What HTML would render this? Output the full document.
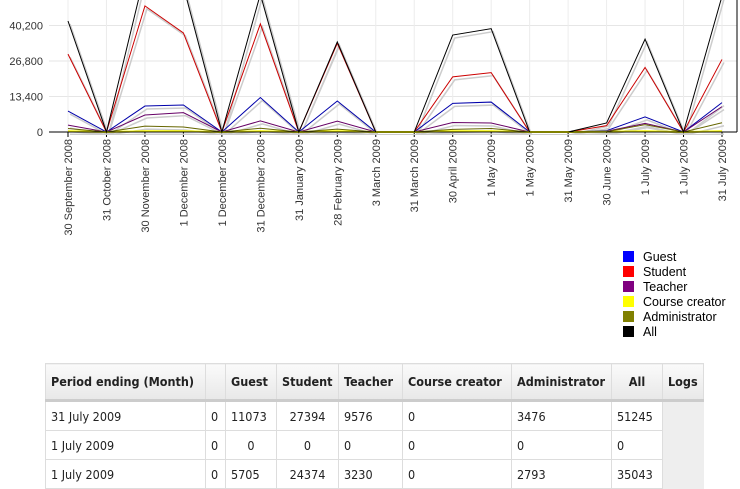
<!DOCTYPE html>
<html><head><meta charset="utf-8"><style>
body{margin:0;width:740px;height:488px;overflow:hidden;background:#fff;font-family:"Liberation Sans",sans-serif;position:relative}
svg{position:absolute;left:0;top:0}
table{position:absolute;left:45px;top:363px;border-collapse:collapse;table-layout:fixed;width:658px;font-family:"DejaVu Sans Condensed","DejaVu Sans","Liberation Sans",sans-serif;font-size:12.5px;color:#222}
th{height:35px;background:linear-gradient(#fafafa,#e8e8e8);border:1px solid #ddd;border-bottom:3px solid #ccc;font-weight:bold;padding:0 5px;text-align:left;white-space:nowrap;overflow:hidden}
td{height:28px;border:1px solid #ddd;padding:0 5px;white-space:nowrap}
td.logs{background:#eee;border:none}
</style></head><body>
<svg id="chart" width="740" height="360"></svg>
<table>
<colgroup><col style="width:160px"><col style="width:20px"><col style="width:51px"><col style="width:62px"><col style="width:64px"><col style="width:109px"><col style="width:100px"><col style="width:51px"><col style="width:41px"></colgroup>
<tr><th>Period ending (Month)</th><th></th><th>Guest</th><th>Student</th><th>Teacher</th><th>Course creator</th><th>Administrator</th><th style="text-align:center">All</th><th>Logs</th></tr>
<tr><td>31 July 2009</td><td>0</td><td>11073</td><td style="text-align:center">27394</td><td>9576</td><td>0</td><td>3476</td><td>51245</td><td class="logs" rowspan="3"></td></tr>
<tr><td>1 July 2009</td><td>0</td><td style="text-align:center">0</td><td style="text-align:center">0</td><td>0</td><td>0</td><td>0</td><td>0</td></tr>
<tr><td>1 July 2009</td><td>0</td><td>5705</td><td style="text-align:center">24374</td><td>3230</td><td>0</td><td>2793</td><td>35043</td></tr>
</table>
<script>
const categories=["30 September 2008","31 October 2008","30 November 2008","1 December 2008","1 December 2008","31 December 2008","31 January 2009","28 February 2009","3 March 2009","31 March 2009","30 April 2009","1 May 2009","1 May 2009","31 May 2009","30 June 2009","1 July 2009","1 July 2009","31 July 2009"];
const guest=[7900,0,9800,10200,0,13000,0,11700,0,0,10800,11300,0,0,500,5705,0,11073];
const student=[29400,0,47600,37400,0,40800,0,33500,0,0,20800,22400,0,0,2400,24374,0,27394];
const teacher=[2600,0,6400,7300,0,4200,0,4100,0,0,3600,3400,0,0,300,3230,0,9576];
const courseCreator=[300,0,300,300,0,300,0,300,0,0,300,300,0,0,100,300,0,300];
const administrator=[1300,0,2200,1900,0,1400,0,1100,0,0,1000,1300,0,0,100,2793,0,3476];
const all=[41900,0,60000,55000,0,52000,0,34000,0,0,36600,39000,0,0,3400,35043,0,51245];
const yTicks=[0,13400,26800,40200];
const svg=document.getElementById('chart');const NS='http://www.w3.org/2000/svg';
const x0=49,x1=737,y0=132,pxPer=35.5/13400;
const xs=i=>68+i*(722-68)/(categories.length-1);
const ys=v=>y0-v*pxPer;
function el(t,a,p){const e=document.createElementNS(NS,t);for(const k in a)e.setAttribute(k,a[k]);(p||svg).appendChild(e);return e;}
const clip=el('clipPath',{id:'c'});el('rect',{x:x0,y:0,width:x1-x0,height:y0+3},clip);
yTicks.forEach(v=>{const g=el('line',{x1:x0,x2:x1,y1:ys(v),y2:ys(v),stroke:'#e6e6e6'});
const t=el('text',{x:43,y:ys(v)+4,'text-anchor':'end','font-size':'11',fill:'#333'});t.textContent=v.toLocaleString('en-US');});
categories.forEach((c,i)=>{el('line',{x1:xs(i),x2:xs(i),y1:0,y2:y0,stroke:'#ececec'});el('line',{x1:xs(i),x2:xs(i),y1:y0,y2:y0+5,stroke:'#000'});
const t=el('text',{transform:`translate(${xs(i)+4},139) rotate(-90)`,'text-anchor':'end','font-size':'11',fill:'#333'});t.textContent=c;});
const series=[["guest",guest,"#0000aa"],["student",student,"#cc0000"],["teacher",teacher,"#660066"],["course-creator",courseCreator,"#ffff00"],["administrator",administrator,"#666600"],["all",all,"#000"]];
const g=el('g',{'clip-path':'url(#c)'});
series.forEach(([n,d])=>{const p=el('polyline',{points:d.map((v,i)=>`${xs(i)+2},${ys(v)+3}`).join(' '),fill:'none',stroke:'#ccc','stroke-width':1.5},g);});
series.forEach(([n,d,c])=>{const p=el('polyline',{points:d.map((v,i)=>`${xs(i)},${ys(v)}`).join(' '),fill:'none',stroke:c,'stroke-width':n=='course-creator'?2:1},g);});
el('line',{x1:x0,x2:x1,y1:y0,y2:y0,stroke:'#000'});el('line',{x1:x1,x2:x1,y1:0,y2:y0,stroke:'#000'});
const lc=["#0000ff","#ff0000","#800080","#ffff00","#808000","#000000"],ln=["Guest","Student","Teacher","Course creator","Administrator","All"];
ln.forEach((n,i)=>{const y=251+i*15;el('rect',{x:623,y:y,width:11,height:11,fill:lc[i]});const t=el('text',{x:643,y:y+10,'font-size':'12.5',fill:'#000'});t.textContent=n;});
</script>
</body></html>
